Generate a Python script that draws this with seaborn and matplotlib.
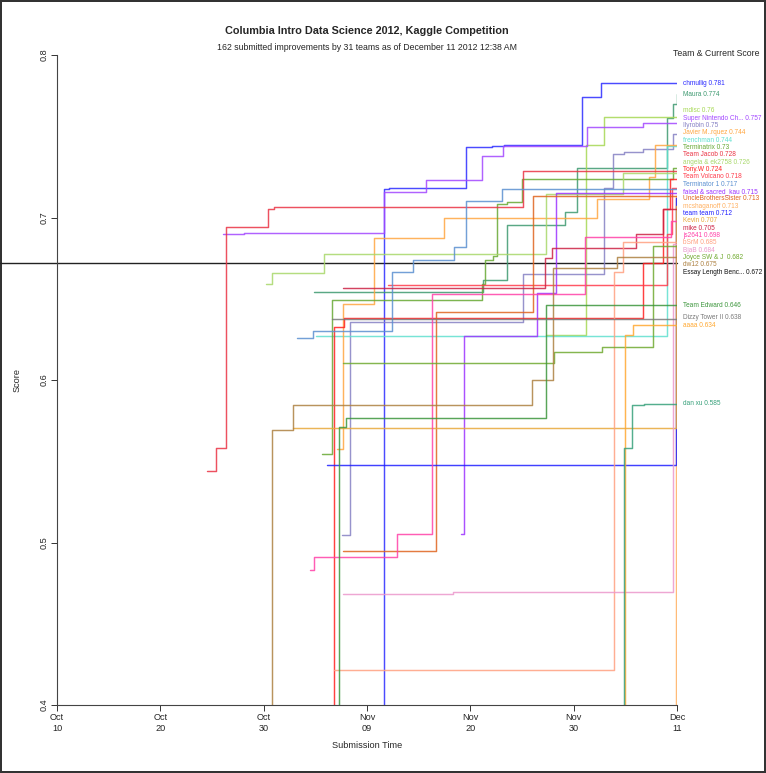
import matplotlib
matplotlib.use("Agg")
import matplotlib.pyplot as plt
import numpy as np
import pandas as pd
import seaborn as sns

TITLE = "Columbia Intro Data Science 2012, Kaggle Competition"
SUBTITLE = "162 submitted improvements by 31 teams as of December 11 2012 12:38 AM"
LEGEND_TITLE = "Team & Current Score"

X_TICK_LABELS = ["Oct\n10", "Oct\n20", "Oct\n30", "Nov\n09", "Nov\n20", "Nov\n30", "Dec\n11"]
Y_TICKS = [0.4, 0.5, 0.6, 0.7, 0.8]
X_MAX = 62.0  # days after Oct 10

# best score so far per team: x = days after Oct 10, y = score (drawn as steps)
CHMULLIG_X = [31.0, 32.7, 33.2, 40.9, 43.5, 44.7, 52.5, 54.4, 62.0]
CHMULLIG_Y = [0.25, 0.7173, 0.718, 0.7434, 0.7442, 0.7446, 0.7744, 0.7826, 0.7826]
MAURA_X = [25.7, 42.6, 45.0, 50.8, 52.0, 61.0, 61.6, 61.95, 62.0]
MAURA_Y = [0.654, 0.6615, 0.6954, 0.7036, 0.7306, 0.7612, 0.770, 0.7758, 0.7758]
MDISC_X = [48.9, 52.9, 54.7, 62.0]
MDISC_Y = [0.6277, 0.7446, 0.7617, 0.7617]
SNES_X = [16.6, 18.7, 32.7, 36.9, 42.5, 44.6, 53.0, 58.6, 62.0]
SNES_Y = [0.6898, 0.6904, 0.7159, 0.7231, 0.738, 0.7442, 0.7559, 0.758, 0.758]
ILYROBIN_X = [28.5, 29.3, 46.6, 54.7, 55.6, 56.7, 58.6, 61.6, 62.0]
ILYROBIN_Y = [0.5046, 0.6355, 0.6652, 0.718, 0.7391, 0.7405, 0.7422, 0.7514, 0.7514]
FRENCHMAN_X = [25.9, 61.0, 62.0]
FRENCHMAN_Y = [0.6273, 0.744, 0.744]
JAVIER_X = [28.0, 28.6, 31.7, 38.7, 54.0, 59.2, 59.8, 62.0]
JAVIER_Y = [0.5575, 0.6466, 0.6876, 0.6999, 0.7112, 0.7247, 0.7446, 0.7446]
TERMINATRIX_X = [26.5, 27.5, 42.5, 42.8, 43.6, 44.0, 45.0, 46.5, 61.6, 62.0]
TERMINATRIX_Y = [0.5543, 0.6492, 0.6589, 0.6738, 0.6762, 0.7081, 0.7098, 0.7237, 0.7306, 0.7306]
JACOB_X = [15.0, 15.9, 16.9, 21.1, 21.7, 46.6, 62.0]
JACOB_Y = [0.544, 0.5584, 0.694, 0.7052, 0.7063, 0.7286, 0.7286]
ANGELA_X = [20.9, 21.5, 26.7, 48.9, 56.6, 62.0]
ANGELA_Y = [0.6589, 0.6657, 0.6773, 0.7143, 0.7272, 0.7272]
TONY_X = [26.0, 27.7, 28.7, 58.6, 60.6, 61.3, 62.0]
TONY_Y = [0.25, 0.6328, 0.638, 0.6718, 0.705, 0.724, 0.724]
VOLCANO_X = [33.1, 61.0, 61.5, 62.0]
VOLCANO_Y = [0.6585, 0.69, 0.718, 0.718]
TERMINATOR_X = [24.0, 25.6, 33.5, 35.6, 39.7, 40.9, 44.5, 62.0]
TERMINATOR_Y = [0.6257, 0.6303, 0.6663, 0.6738, 0.6818, 0.7102, 0.7174, 0.7174]
FAISAL_X = [40.4, 40.7, 48.0, 49.9, 62.0]
FAISAL_Y = [0.505, 0.6273, 0.6534, 0.7153, 0.7153]
MCSHAGANOFF_X = [60.0, 61.9, 62.0]
MCSHAGANOFF_Y = [0.25, 0.713, 0.713]
UNCLE_X = [28.6, 37.9, 47.6, 62.0]
UNCLE_Y = [0.4948, 0.6417, 0.7135, 0.7135]
TEAMTEAM_X = [27.0, 61.9, 62.0]
TEAMTEAM_Y = [0.5477, 0.712, 0.712]
KEVIN_X = [23.6, 61.9, 62.0]
KEVIN_Y = [0.5703, 0.707, 0.707]
MIKE_X = [28.6, 48.8, 49.5, 57.9, 60.6, 62.0]
MIKE_Y = [0.6564, 0.6752, 0.6814, 0.6897, 0.705, 0.705]
JS2641_X = [25.3, 25.7, 34.0, 37.5, 52.8, 61.4, 62.0]
JS2641_Y = [0.4831, 0.4913, 0.505, 0.6529, 0.6882, 0.698, 0.698]
BSRM_X = [27.7, 55.7, 56.6, 62.0]
BSRM_Y = [0.4217, 0.6663, 0.6851, 0.6851]
BJAB_X = [28.6, 39.6, 61.6, 62.0]
BJAB_Y = [0.4685, 0.4695, 0.684, 0.684]
JOYCE_X = [28.6, 49.7, 54.5, 59.6, 62.0]
JOYCE_Y = [0.6103, 0.617, 0.6205, 0.6827, 0.6827]
DW12_X = [20.0, 21.5, 23.6, 47.5, 49.6, 56.0, 62.0]
DW12_Y = [0.25, 0.5692, 0.5844, 0.6002, 0.6687, 0.6755, 0.6755]
EDWARD_X = [26.0, 28.2, 28.9, 48.9, 62.0]
EDWARD_Y = [0.25, 0.5713, 0.5764, 0.646, 0.646]
DIZZY_X = [27.5, 62.0]
DIZZY_Y = [0.6378, 0.6378]
AAAA_X = [55.0, 56.8, 57.6, 62.0]
AAAA_Y = [0.25, 0.6277, 0.634, 0.634]
DANXU_X = [55.0, 56.7, 57.5, 58.7, 62.0]
DANXU_Y = [0.25, 0.5584, 0.5846, 0.5854, 0.5854]

BENCHMARK_SCORE = 0.672
BENCHMARK_LABEL = "Essay Length Benc... 0.672"

TEAM_NAMES = ["chmullig", "Maura", "mdisc", "Super Nintendo", "Ilyrobin", "frenchman",
              "Javier", "Terminatrix", "Team Jacob", "angela", "Tony.W", "Team Volcano",
              "Terminator 1", "faisal", "mcshaganoff", "UncleBrothersSister", "team team",
              "Kevin", "mike", "js2641", "bSrM", "BjaB", "Joyce", "dw12", "Team Edward",
              "Dizzy Tower II", "aaaa", "dan xu"]
TEAM_LABELS = ["chmullig 0.781", "Maura 0.774", "mdisc 0.76", "Super Nintendo Ch... 0.757",
               "Ilyrobin 0.75", "frenchman 0.744", "Javier M..rquez 0.744", "Terminatrix 0.73",
               "Team Jacob 0.728", "angela & ek2758 0.726", "Tony.W 0.724", "Team Volcano 0.718",
               "Terminator 1 0.717", "faisal & sacred_kau 0.715", "mcshaganoff 0.713",
               "UncleBrothersSister 0.713", "team team 0.712", "Kevin 0.707", "mike 0.705",
               "js2641 0.698", "bSrM 0.685", "BjaB 0.684", "Joyce SW & J  0.682", "dw12 0.675",
               "Team Edward 0.646", "Dizzy Tower II 0.638", "aaaa 0.634", "dan xu 0.585"]
TEAM_COLORS = ["#2b2bff", "#3d9970", "#a6d854", "#a347ff", "#8580c4", "#5fe0cf",
               "#ffa640", "#66a833", "#ea3344", "#a8d86a", "#ff2020", "#ff3b4b",
               "#5a8fd0", "#9c33ff", "#ffb060", "#e0641e", "#1f1fff",
               "#e8a83a", "#cc2244", "#ff40a8", "#ffa080", "#eb98cc", "#70aa30", "#ad8040",
               "#3c963c", "#7a7a7a", "#ffa830", "#36a07a"]
TEAM_STEPS = [(CHMULLIG_X, CHMULLIG_Y), (MAURA_X, MAURA_Y), (MDISC_X, MDISC_Y),
              (SNES_X, SNES_Y), (ILYROBIN_X, ILYROBIN_Y), (FRENCHMAN_X, FRENCHMAN_Y),
              (JAVIER_X, JAVIER_Y), (TERMINATRIX_X, TERMINATRIX_Y), (JACOB_X, JACOB_Y),
              (ANGELA_X, ANGELA_Y), (TONY_X, TONY_Y), (VOLCANO_X, VOLCANO_Y),
              (TERMINATOR_X, TERMINATOR_Y), (FAISAL_X, FAISAL_Y),
              (MCSHAGANOFF_X, MCSHAGANOFF_Y), (UNCLE_X, UNCLE_Y), (TEAMTEAM_X, TEAMTEAM_Y),
              (KEVIN_X, KEVIN_Y), (MIKE_X, MIKE_Y), (JS2641_X, JS2641_Y), (BSRM_X, BSRM_Y),
              (BJAB_X, BJAB_Y), (JOYCE_X, JOYCE_Y), (DW12_X, DW12_Y), (EDWARD_X, EDWARD_Y),
              (DIZZY_X, DIZZY_Y), (AAAA_X, AAAA_Y), (DANXU_X, DANXU_Y)]


def spread_labels(values, gap):
    """Push overlapping labels apart, keeping each cluster centred on its mean."""
    values = np.asarray(values, dtype=float)
    order = list(np.argsort(-values, kind="stable"))
    groups = [[i] for i in order]

    def top(g):
        return values[g].mean() + gap * (len(g) - 1) / 2

    def bottom(g):
        return values[g].mean() - gap * (len(g) - 1) / 2

    merged = True
    while merged:
        merged = False
        for k in range(len(groups) - 1):
            if bottom(groups[k]) - top(groups[k + 1]) < gap:
                groups[k] = groups[k] + groups[k + 1]
                del groups[k + 1]
                merged = True
                break
    pos = np.zeros(len(values))
    for g in groups:
        t = top(g)
        for j, i in enumerate(g):
            pos[i] = t - j * gap
    return pos


sns.set_theme(style="white")
plt.rcParams["font.family"] = ["Liberation Sans", "DejaVu Sans"]

W, H = 766, 773
fig = plt.figure(figsize=(W / 100, H / 100), dpi=100)
fig.patch.set_edgecolor("#333333")
fig.patch.set_linewidth(1.5)
ax = fig.add_axes([57 / W, 1 - 705 / H, 620 / W, 650 / H])

rows = []
for name, (xs, ys) in zip(TEAM_NAMES, TEAM_STEPS):
    for x, y in zip(xs, ys):
        rows.append({"team": name, "day": x, "score": y})
df = pd.DataFrame(rows)
palette = dict(zip(TEAM_NAMES, TEAM_COLORS))

ax.axhline(BENCHMARK_SCORE, xmin=-57 / 620, xmax=1, color="#222222", lw=1.0, clip_on=False, zorder=1)
sns.lineplot(data=df, x="day", y="score", hue="team", palette=palette, hue_order=TEAM_NAMES,
             estimator=None, sort=False, drawstyle="steps-post", legend=False,
             linewidth=1.05, alpha=0.85, ax=ax)

ax.set_xlim(0, X_MAX)
ax.set_ylim(0.4, 0.8)
ax.set_xticks(np.linspace(0, X_MAX, len(X_TICK_LABELS)))
ax.set_xticklabels(X_TICK_LABELS, fontsize=6.6, linespacing=1.25)
ax.set_yticks(Y_TICKS)
ax.set_yticklabels([f"{v:g}" for v in Y_TICKS], fontsize=6.6, rotation=90, va="center")
ax.tick_params(direction="out", length=4, width=0.7, color="#333333", pad=2,
               bottom=True, left=True)
for side in ["top", "right"]:
    ax.spines[side].set_visible(False)
for side in ["left", "bottom"]:
    ax.spines[side].set_color("#444444")
    ax.spines[side].set_linewidth(0.8)
ax.set_xlabel("Submission Time", fontsize=6.6, labelpad=6)
ax.set_ylabel("Score", fontsize=6.6, labelpad=13)
ax.grid(False)

fig.text(367 / W, 1 - 31 / H, TITLE, ha="center", va="center", fontsize=7.8, fontweight="bold")
fig.text(367 / W, 1 - 48 / H, SUBTITLE, ha="center", va="center", fontsize=6.3)
fig.text(716 / W, 1 - 54 / H, LEGEND_TITLE, ha="center", va="center", fontsize=6.3)

end_scores = [ys[-1] for _, ys in TEAM_STEPS]
all_labels = TEAM_LABELS + [BENCHMARK_LABEL]
all_colors = TEAM_COLORS + ["#111111"]
positions = spread_labels(end_scores + [BENCHMARK_SCORE], gap=0.00451)
for text, color, y in zip(all_labels, all_colors, positions):
    ax.text(X_MAX + 0.6, y, text, color=color, fontsize=4.7, va="center", ha="left",
            clip_on=False)

fig.savefig("out.png", dpi=100, edgecolor=fig.get_edgecolor())
